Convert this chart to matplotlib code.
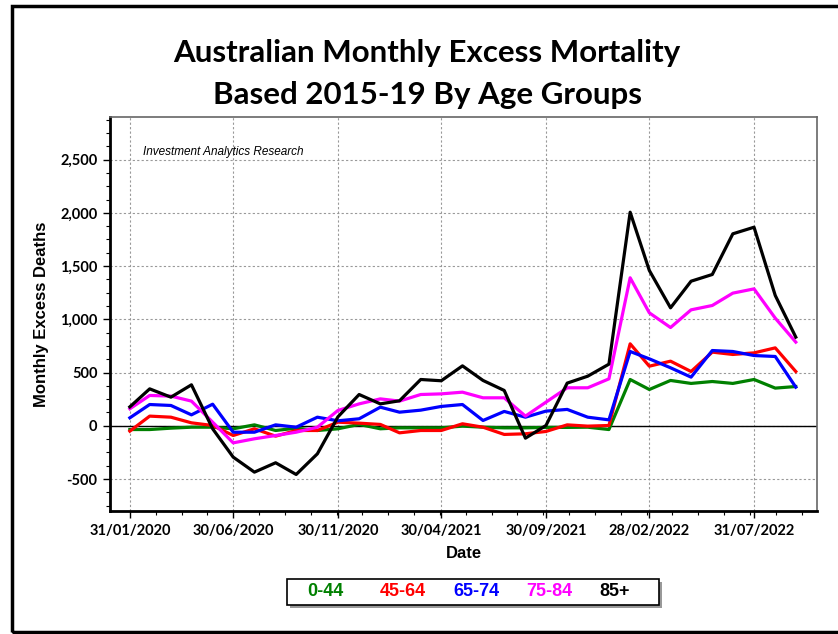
#!/usr/bin/env python3
"""Australian monthly excess mortality by age group (baseline 2015-19)."""
import pandas as pd
import matplotlib
matplotlib.use("Agg")
import matplotlib.pyplot as plt
import matplotlib.dates as mdates
from matplotlib.ticker import AutoMinorLocator, FuncFormatter
from matplotlib.patches import Rectangle

# month-end dates, Jan 2020 .. Sep 2022
dates = pd.date_range("2020-01-31", periods=33, freq="ME")

age_0_44 = [-35, -35, -22, -13, -13, -28, 9, -44, -22, -44, -28, 13,
            -28, -19, -19, -19, -3, -13, -19, -19, -15, -15, -13, -35,
            435, 341, 426, 398, 416, 398, 435, 354, 369]
age_45_64 = [-50, 91, 81, 28, 3, -91, -28, -97, -44, -44, 34, 25,
             13, -66, -44, -44, 19, -13, -81, -75, -53, 9, -3, 3,
             770, 560, 607, 510, 692, 670, 685, 732, 510]
age_65_74 = [75, 200, 191, 103, 203, -60, -60, 9, -13, 81, 47, 66,
             175, 128, 147, 182, 200, 50, 135, 81, 138, 154, 81, 56,
             698, 629, 545, 457, 707, 698, 660, 651, 363]
age_75_84 = [160, 285, 279, 232, 34, -160, -122, -91, -60, -13, 144, 206,
             253, 232, 294, 300, 316, 263, 263, 91, 222, 357, 357, 441,
             1390, 1061, 923, 1089, 1130, 1246, 1286, 1011, 786]
age_85 = [178, 347, 269, 385, -28, -294, -435, -347, -457, -263, 84, 294,
          206, 235, 435, 423, 563, 426, 332, -116, 3, 401, 466, 579,
          2006, 1459, 1108, 1358, 1421, 1803, 1865, 1224, 833]

series = [
    ("0-44", age_0_44, "#008000"),
    ("45-64", age_45_64, "#ff0000"),
    ("65-74", age_65_74, "#0000ff"),
    ("75-84", age_75_84, "#ff00ff"),
    ("85+", age_85, "#000000"),
]

W, H = 838, 634


def fx(px):
    return px / W


def fy(py):
    # pixel row measured from the top -> figure fraction
    return 1 - py / H


fig = plt.figure(figsize=(W / 100, H / 100), dpi=100)
fig.patch.set_facecolor("white")

# outer frame (right side runs off the canvas)
fig.patches.append(Rectangle((fx(12), fy(632)), 1.0, fy(6) - fy(632),
                             transform=fig.transFigure, fill=False,
                             edgecolor="black", lw=2.5))

ax = fig.add_axes([fx(110), fy(511), fx(817 - 110), fy(117) - fy(511)])

for name, vals, col in series:
    ax.plot(dates, vals, color=col, lw=2.3, label=name, zorder=3)

ax.axhline(0, color="black", lw=1, zorder=2)

ax.set_xlim(pd.Timestamp("2020-01-02"), pd.Timestamp("2022-10-31"))
ax.set_ylim(-800, 2900)

ax.set_xticks(dates[::5])
ax.xaxis.set_major_formatter(mdates.DateFormatter("%d/%m/%Y"))
ax.xaxis.set_minor_locator(AutoMinorLocator(4))
ax.set_yticks(range(-500, 2501, 500))
ax.yaxis.set_major_formatter(FuncFormatter(lambda v, p: f"{int(v):,}"))
ax.yaxis.set_minor_locator(AutoMinorLocator(4))

ax.grid(True, which="major", color="#999999", ls=(0, (2, 2)), lw=0.8)
ax.tick_params(which="major", direction="out", length=5, width=1, pad=4)
ax.tick_params(which="minor", direction="out", length=3, width=0.8)
for lab in ax.get_xticklabels() + ax.get_yticklabels():
    lab.set_fontfamily("Lato")
    lab.set_fontweight("bold")
    lab.set_fontsize(10.5)

for s in ("left", "bottom"):
    ax.spines[s].set_color("black")
    ax.spines[s].set_linewidth(2)
for s in ("top", "right"):
    ax.spines[s].set_color("#666666")
    ax.spines[s].set_linewidth(1.2)

ax.set_xlabel("Date", fontsize=12, fontweight="bold",
              family="Liberation Sans", labelpad=6)
ax.set_ylabel("Monthly Excess Deaths", fontsize=12, fontweight="bold",
              family="Liberation Sans", labelpad=8)

fig.text(fx(143), fy(152), "Investment Analytics Research",
         fontsize=8.5, style="italic", family="Liberation Sans",
         va="center", ha="left")

fig.text(fx(427), fy(53), "Australian Monthly Excess Mortality",
         ha="center", va="center", fontsize=22.5, fontweight="bold", family="Lato")
fig.text(fx(427), fy(95), "Based 2015-19 By Age Groups",
         ha="center", va="center", fontsize=22.5, fontweight="bold", family="Lato")

# legend: coloured labels in a shadowed box
fig.patches.append(Rectangle((fx(290), fy(608)), fx(659 - 287), fy(579) - fy(605),
                             transform=fig.transFigure, facecolor="#999999",
                             edgecolor="none", zorder=4))
fig.patches.append(Rectangle((fx(287), fy(605)), fx(659 - 287), fy(579) - fy(605),
                             transform=fig.transFigure, facecolor="white",
                             edgecolor="black", lw=1.2, zorder=5))
legend_x = [307, 380, 453, 526, 599]
for px, (name, _, col) in zip(legend_x, series):
    fig.text(fx(px), fy(592), name, color=col, ha="left", va="center",
             fontsize=13, fontweight="bold", family="Liberation Sans", zorder=6)

fig.savefig("out.png", dpi=100)
